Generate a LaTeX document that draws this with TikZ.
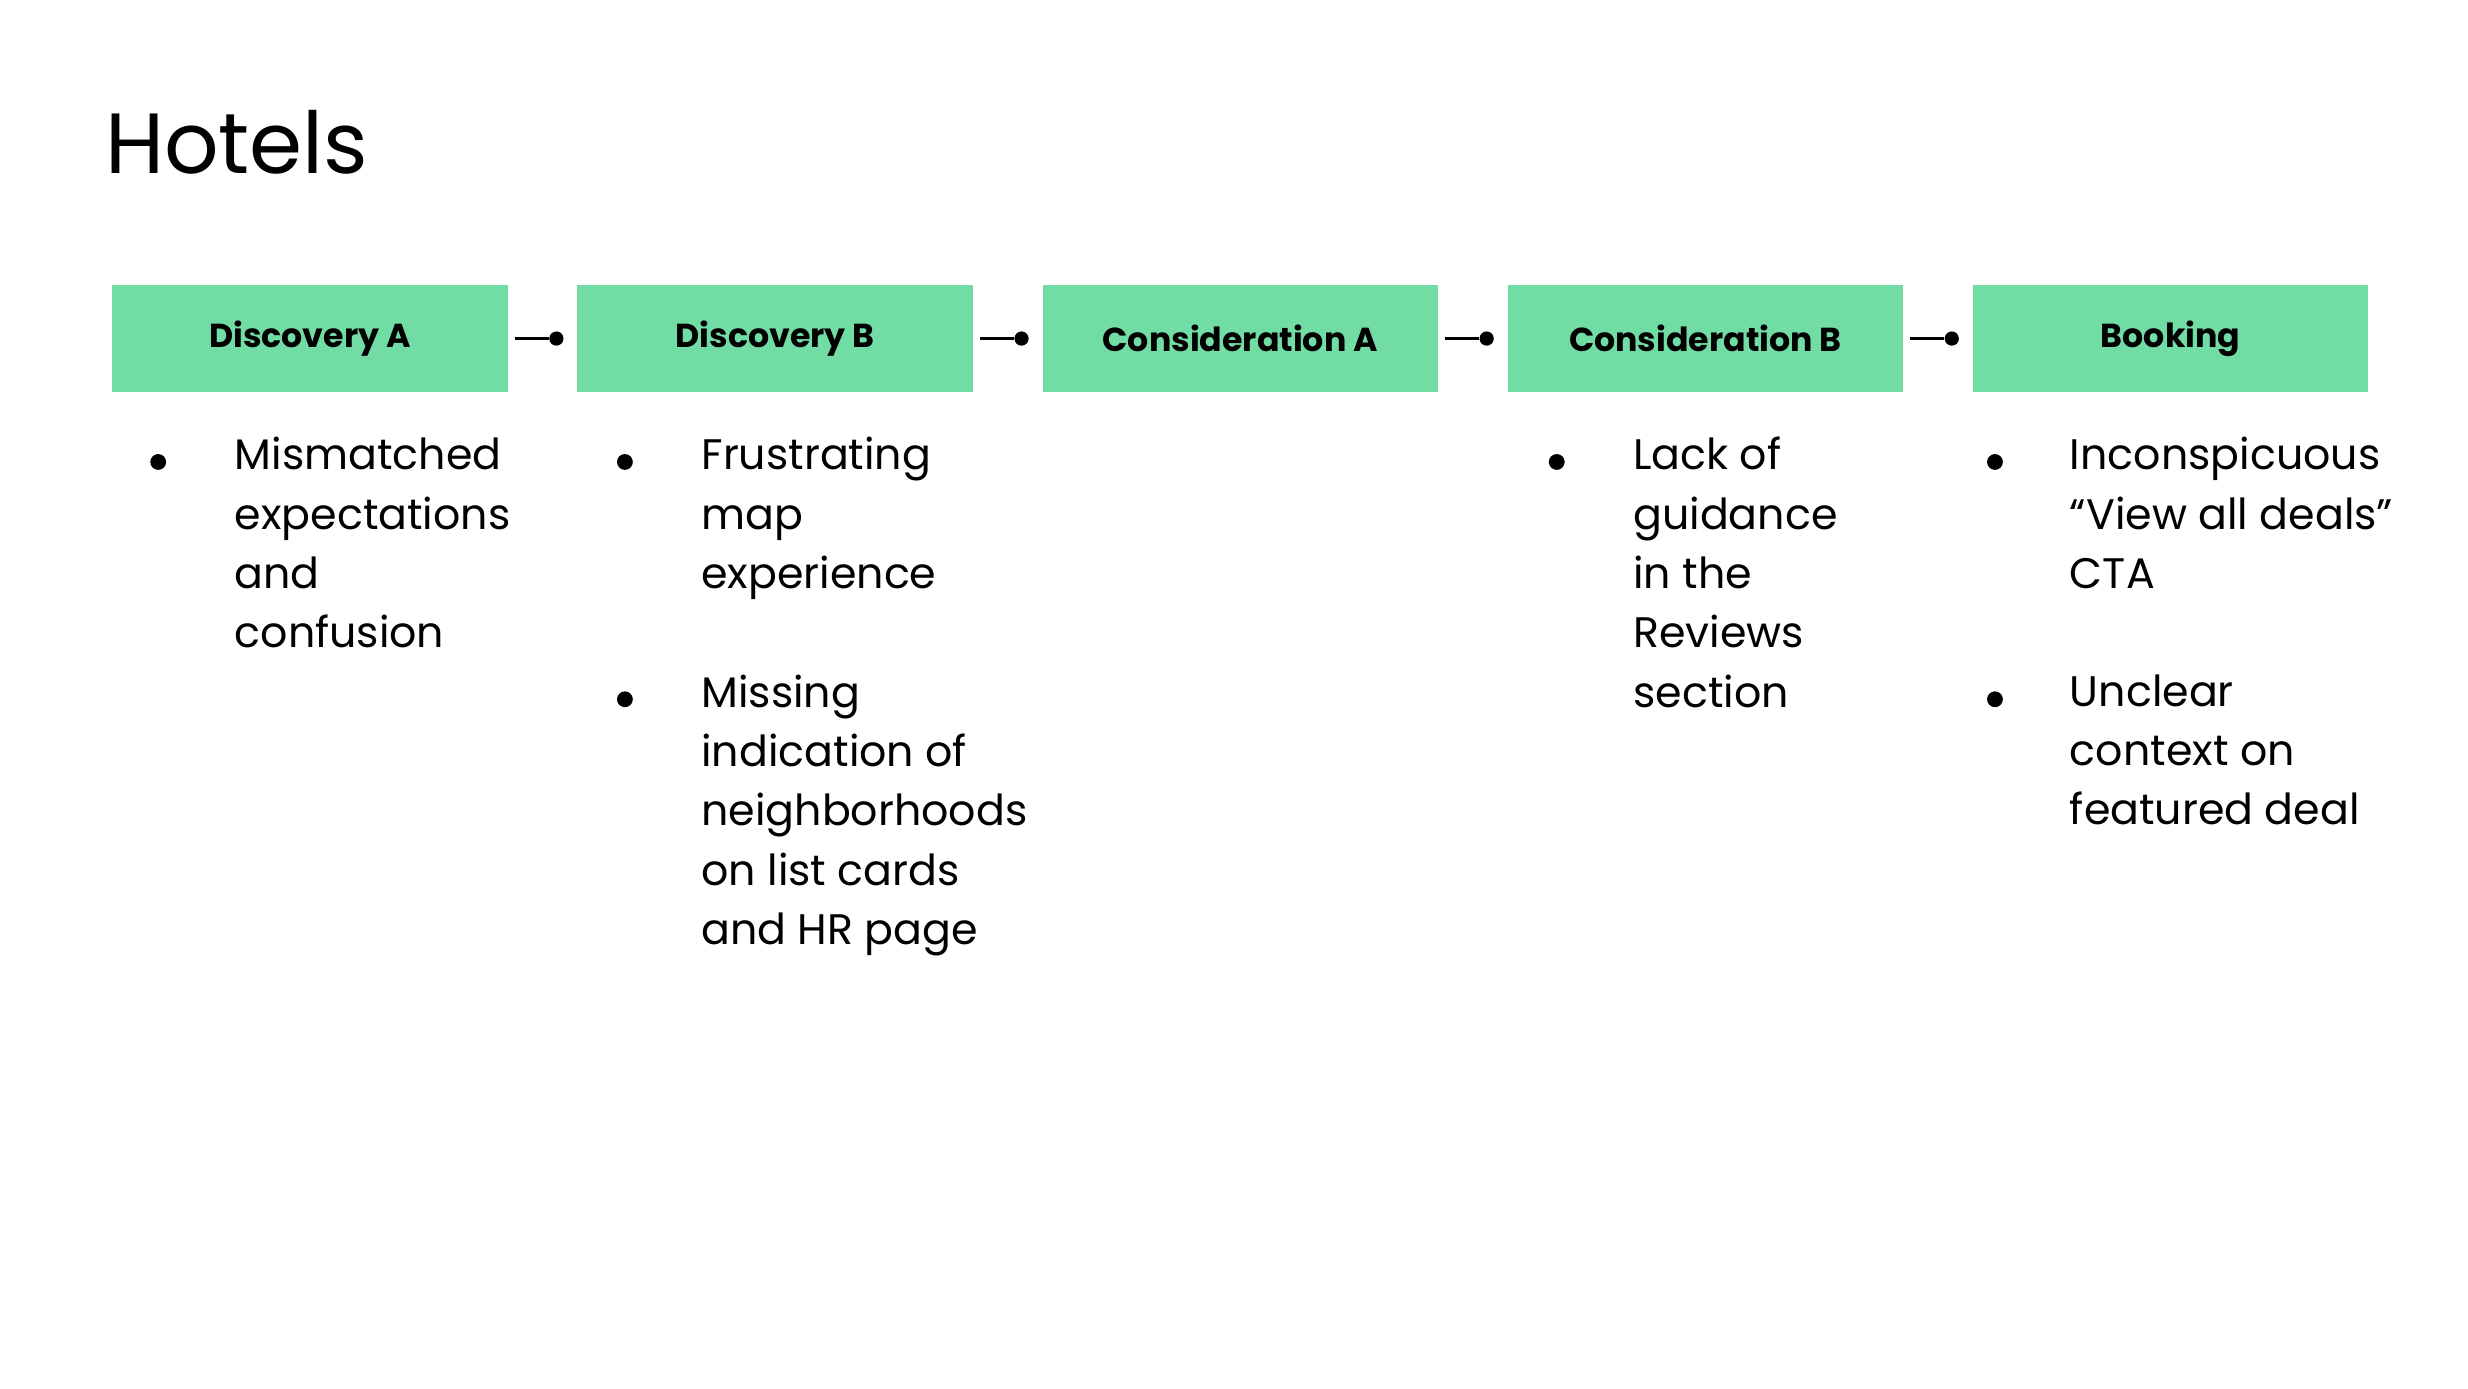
\documentclass[tikz,border=0pt]{standalone}
\usepackage{fontspec}
\setmainfont{Poppins}
\usetikzlibrary{positioning}
\definecolor{stagegreen}{HTML}{72DCA5}

\begin{document}
\begin{tikzpicture} [
	x=0.5pt, y=-0.5pt,
	stage/.style = {fill=stagegreen, minimum width=125pt, minimum height=34pt, inner sep=0pt, font=\bfseries\fontsize{10.5}{12}\selectfont},
	link/.style = {line width=0.8pt},
	dot/.style = {circle, fill=black, inner sep=0pt, minimum size=4.5pt},
	bullet/.style = {circle, fill=black, inner sep=0pt, minimum size=5pt},
	note/.style = {anchor=north west, align=left, inner sep=0pt, font=\fontsize{13.5}{18.75}\selectfont}
]
\useasboundingbox (0,0) rectangle (1560,877.5);
\node [anchor=west, inner sep=0pt, font=\fontsize{27}{30}\selectfont] (title) at (66,90) {Hotels};
% stages
\node [stage] (discA) at (196,214) {Discovery A};
\node [stage] (discB) at (490,214) {Discovery B};
\node [stage] (consA) at (784,214) {Consideration A};
\node [stage] (consB) at (1078,214) {Consideration B};
\node [stage] (book) at (1372,214) {Booking};
% connectors
\foreach \a/\b in {discA/discB, discB/consA, consA/consB, consB/book} {
	\node [dot, left=4pt of \b.west] (dot-\b) {};
	\coordinate [right=2pt of \a.east] (start-\a);
	\draw [link] (start-\a) -- (dot-\b);
}
% notes
\node [bullet] (b1) at (100,292) {};
\node [note] (n1) at (148,276) {Mismatched\\expectations\\and\\confusion};
\node [bullet] (b2) at (395,292) {};
\node [note] (n2) at (443,276) {Frustrating\\map\\experience};
\node [bullet] (b3) at (395,442) {};
\node [note] (n3) at (443,426) {Missing\\indication of\\neighborhoods\\on list cards\\and HR page};
\node [bullet] (b4) at (984,292) {};
\node [note] (n4) at (1032,276) {Lack of\\guidance\\in the\\Reviews\\section};
\node [bullet] (b5) at (1261,292) {};
\node [note] (n5) at (1308,276) {Inconspicuous\\“View all deals”\\CTA};
\node [bullet] (b6) at (1261,442) {};
\node [note] (n6) at (1308,426) {Unclear\\context on\\featured deal};
\end{tikzpicture}
\end{document}
